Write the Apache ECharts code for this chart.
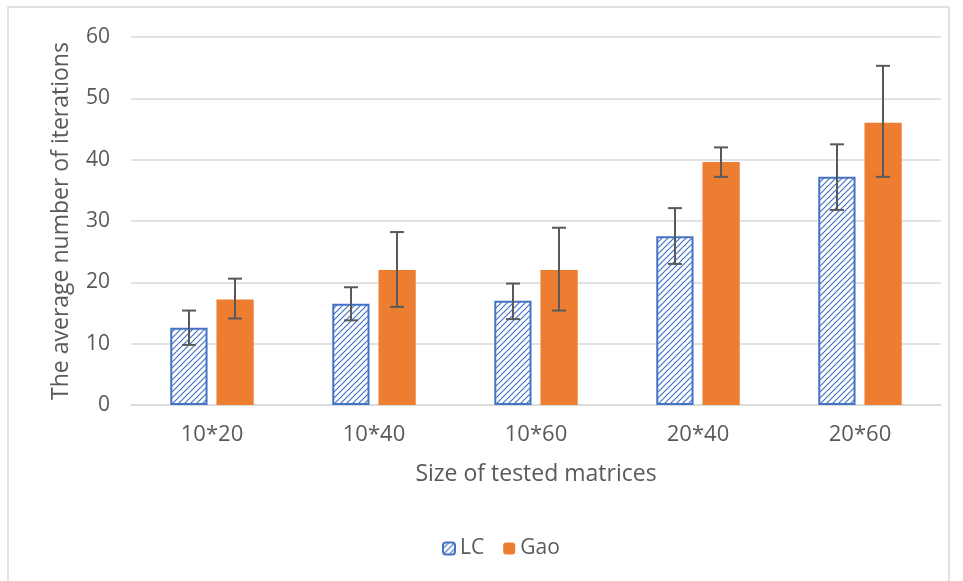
<!DOCTYPE html>
<html>
<head>
<meta charset="utf-8">
<script src="https://cdn.jsdelivr.net/npm/echarts@6/dist/echarts.min.js"></script>
<style>html,body{margin:0;padding:0;background:#fff;}#c{width:963px;height:581px;}</style>
</head>
<body>
<div id="c"></div>
<script>
const categories = ['10*20', '10*40', '10*60', '20*40', '20*60'];
const lcValues = [12.6, 16.5, 17.0, 27.5, 37.2];
const lcErrLow = [9.8, 13.8, 14.0, 23.0, 31.8];
const lcErrHigh = [15.4, 19.2, 19.8, 32.1, 42.5];
const gaoValues = [17.2, 22.0, 22.0, 39.6, 46.0];
const gaoErrLow = [14.1, 16.0, 15.4, 37.2, 37.2];
const gaoErrHigh = [20.6, 28.2, 28.9, 42.0, 55.3];
const yTicks = [0, 10, 20, 30, 40, 50, 60];

function makeHatch() {
  const s = 6;
  const cv = document.createElement('canvas');
  cv.width = s; cv.height = s;
  const ctx = cv.getContext('2d');
  ctx.fillStyle = '#ffffff';
  ctx.fillRect(0, 0, s, s);
  ctx.strokeStyle = '#4472C4';
  ctx.lineWidth = 1.2;
  ctx.beginPath();
  ctx.moveTo(-1, s + 1); ctx.lineTo(s + 1, -1);
  ctx.moveTo(-1, 1); ctx.lineTo(1, -1);
  ctx.moveTo(s - 1, s + 1); ctx.lineTo(s + 1, s - 1);
  ctx.stroke();
  return cv;
}
const hatch = { image: makeHatch(), repeat: 'repeat' };

const chart = echarts.init(document.getElementById('c'), null, { renderer: 'canvas' });

function errItem(offset) {
  return function (params, api) {
    const i = api.value(0);
    const lo = api.coord([i, api.value(1)]);
    const hi = api.coord([i, api.value(2)]);
    const bw = api.size([1, 0])[0];
    const x = lo[0] + bw * offset;
    const cap = 7;
    const st = { stroke: '#595959', lineWidth: 2 };
    return {
      type: 'group',
      children: [
        { type: 'line', shape: { x1: x, y1: hi[1], x2: x, y2: lo[1] }, style: st },
        { type: 'line', shape: { x1: x - cap, y1: hi[1], x2: x + cap, y2: hi[1] }, style: st },
        { type: 'line', shape: { x1: x - cap, y1: lo[1], x2: x + cap, y2: lo[1] }, style: st }
      ]
    };
  };
}

const lcErrData = categories.map((c, i) => [i, lcErrLow[i], lcErrHigh[i]]);
const gaoErrData = categories.map((c, i) => [i, gaoErrLow[i], gaoErrHigh[i]]);

const textColor = '#595959';
const font = 'Open Sans, Noto Sans, sans-serif';

chart.setOption({
  animation: false,
  backgroundColor: '#ffffff',
  graphic: [{
    type: 'rect', shape: { x: 8, y: 7, width: 941, height: 590 },
    style: { fill: 'none', stroke: '#d9d9d9', lineWidth: 1.5 }, z: -1
  }],
  grid: { left: 131, right: 22, top: 37, bottom: 176 },
  legend: {
    top: 533, left: 437,
    itemWidth: 12, itemHeight: 12, itemGap: 19,
    textStyle: { color: textColor, fontSize: 21, fontFamily: font },
    data: ['LC', 'Gao']
  },
  xAxis: {
    type: 'category', data: categories,
    name: 'Size of tested matrices', nameLocation: 'middle', nameGap: 58,
    nameTextStyle: { color: textColor, fontSize: 23, fontFamily: font },
    axisLine: { lineStyle: { color: '#d9d9d9', width: 1.5 } },
    axisTick: { show: false },
    axisLabel: { color: textColor, fontSize: 22, fontFamily: font, margin: 19 }
  },
  yAxis: {
    type: 'value', min: 0, max: 60, interval: 10,
    name: 'The average number of iterations', nameLocation: 'middle', nameGap: 58,
    nameTextStyle: { color: textColor, fontSize: 23, fontFamily: font },
    axisLine: { show: false }, axisTick: { show: false },
    axisLabel: { color: textColor, fontSize: 21, fontFamily: font, margin: 21,
      formatter: v => yTicks.includes(v) ? String(v) : '' },
    splitLine: { lineStyle: { color: '#d9d9d9', width: 1.5 } }
  },
  series: [
    {
      name: 'LC', type: 'bar', data: lcValues, barWidth: '23%', barGap: '24%',
      itemStyle: { color: hatch, borderColor: '#4472C4', borderWidth: 2 }
    },
    {
      name: 'Gao', type: 'bar', data: gaoValues, barWidth: '23%', barGap: '24%',
      itemStyle: { color: '#ED7D31' }
    },
    {
      name: 'LCerr', type: 'custom', data: lcErrData, renderItem: errItem(-0.142), z: 5,
      encode: { x: 0, y: [1, 2] }
    },
    {
      name: 'Gaoerr', type: 'custom', data: gaoErrData, renderItem: errItem(0.142), z: 5,
      encode: { x: 0, y: [1, 2] }
    }
  ]
});
</script>
</body>
</html>
